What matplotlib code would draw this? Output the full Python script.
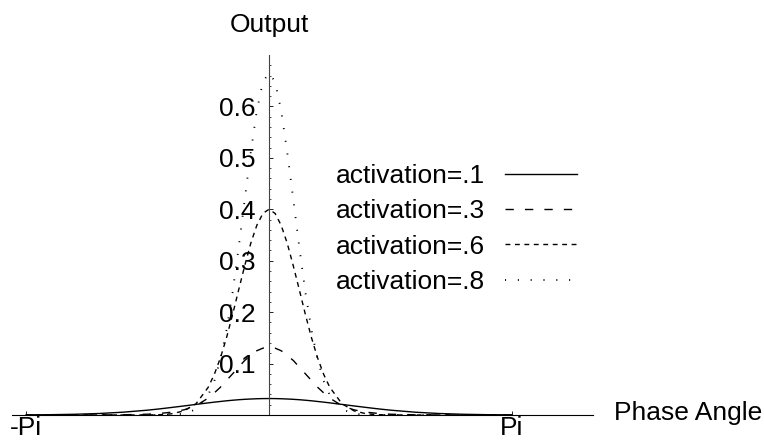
import numpy as np
import matplotlib
matplotlib.use("Agg")
import matplotlib.pyplot as plt

# phase angle in units of Pi, right half only (curves are symmetric about 0)
theta_half = [0, 0.025, 0.05, 0.075, 0.1, 0.125, 0.15, 0.175, 0.2, 0.225,
              0.25, 0.3, 0.35, 0.4, 0.45, 0.5, 0.6, 0.7, 0.8, 0.9, 1.0]

# output values
act_01 = [0.0320, 0.0319, 0.0316, 0.0311, 0.0305, 0.0297, 0.0287, 0.0276, 0.0263, 0.0250,
          0.0236, 0.0206, 0.0176, 0.0147, 0.0119, 0.0094, 0.0055, 0.0029, 0.0014, 0.0006, 0.0002]
act_03 = [0.132, 0.130, 0.125, 0.116, 0.106, 0.093, 0.080, 0.067, 0.054, 0.043,
          0.033, 0.018, 0.010, 0.0055, 0.003, 0.0015, 0.0004, 0.0001, 0, 0, 0]
act_06 = [0.400, 0.392, 0.369, 0.334, 0.290, 0.243, 0.195, 0.150, 0.111, 0.079,
          0.054, 0.022, 0.008, 0.0024, 0.0006, 0.0001, 0, 0, 0, 0, 0]
act_08 = [0.665, 0.648, 0.592, 0.511, 0.419, 0.325, 0.238, 0.165, 0.108, 0.066,
          0.039, 0.011, 0.0025, 0.0005, 0.0001, 0, 0, 0, 0, 0, 0]

labels = ["activation=.1", "activation=.3", "activation=.6", "activation=.8"]
ytick_vals = [0.1, 0.2, 0.3, 0.4, 0.5, 0.6]
ytick_labels = ["0.1", "0.2", "0.3", "0.4", "0.5", "0.6"]


def mirror(v):
    v = np.asarray(v, dtype=float)
    return np.concatenate([v[:0:-1], v])


theta = np.concatenate([-np.asarray(theta_half[:0:-1]), theta_half]) * np.pi

plt.rcParams["font.family"] = ["Liberation Sans", "DejaVu Sans"]
FS = 19

fig = plt.figure(figsize=(7.64, 4.43), dpi=100)
ax = fig.add_axes([12 / 764, 28 / 443, 581 / 764, 360 / 443])

styles = [
    dict(linestyle="-", lw=1.0),
    dict(dashes=(6, 8), lw=1.0),
    dict(dashes=(3.5, 3.3), lw=1.0),
    dict(dashes=(0.6, 6.5), lw=1.3),
]
for vals, lab, st in zip([act_01, act_03, act_06, act_08], labels, styles):
    ax.plot(theta, mirror(vals), color="black", label=lab, **st)

ax.set_xlim(-1.0576 * np.pi, 1.3333 * np.pi)
ax.set_ylim(0, 0.7)

ax.spines["left"].set_position(("data", 0))
ax.spines[["top", "right"]].set_visible(False)
for s in ("left", "bottom"):
    ax.spines[s].set_linewidth(0.8)
ax.spines["left"].set_color("#444444")

ax.set_xticks([-np.pi, np.pi], ["-Pi", "Pi"])
ax.set_yticks(ytick_vals, ytick_labels)
ax.set_yticks(np.arange(0.02, 0.70, 0.02), minor=True)

ax.tick_params(axis="both", which="both", direction="in", labelsize=FS)
ax.tick_params(axis="y", which="major", length=3, width=0.6, pad=9.4)
ax.tick_params(axis="y", which="minor", length=1.6, width=0.5)
ax.tick_params(axis="x", which="major", length=3, width=0.6, pad=0.5)

ax.legend(loc="upper left", bbox_to_anchor=(336 / 764, (443 - 164) / 443),
          bbox_transform=fig.transFigure, frameon=False, markerfirst=False,
          handlelength=2.75, handletextpad=0.75, labelspacing=0.43,
          borderpad=0, borderaxespad=0, fontsize=FS)

fig.text(269 / 764, (443 - 32) / 443, "Output", ha="center", va="baseline", fontsize=FS)
fig.text(614 / 764, (443 - 420) / 443, "Phase Angle", ha="left", va="baseline", fontsize=FS)

fig.savefig("out.png", dpi=100)
